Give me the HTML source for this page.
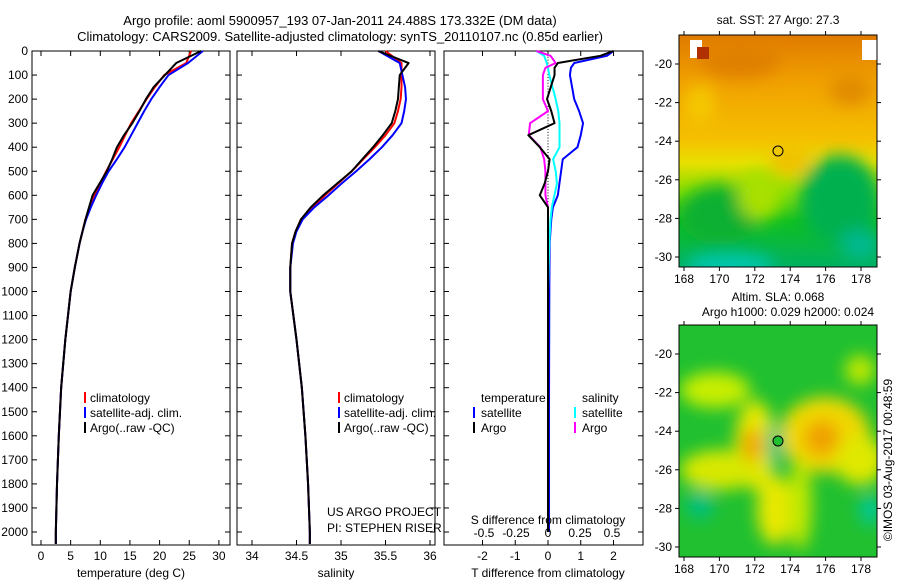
<!DOCTYPE html>
<html><head><meta charset="utf-8"><style>
html,body{margin:0;padding:0;background:#fff}
svg text{font-family:"Liberation Sans",sans-serif;font-size:12px;fill:#000}
svg text.big{font-size:13px}
</style></head><body>
<svg id="s" width="900" height="580" xmlns="http://www.w3.org/2000/svg">
<defs>
<filter id="blur1" x="-50%" y="-50%" width="200%" height="200%"><feGaussianBlur stdDeviation="8"/></filter>
<clipPath id="c1"><rect x="679" y="35" width="198" height="232"/></clipPath>
<clipPath id="c2"><rect x="679" y="325" width="198" height="232"/></clipPath>
<linearGradient id="sstg" x1="0" y1="0" x2="0" y2="1">
<stop offset="0" stop-color="#e07a00"/><stop offset="0.2" stop-color="#f0a000"/><stop offset="0.45" stop-color="#f5c000"/><stop offset="0.55" stop-color="#e8e000"/><stop offset="0.68" stop-color="#80dd00"/><stop offset="0.8" stop-color="#10c020"/><stop offset="1" stop-color="#00b060"/>
</linearGradient>
</defs>
<text class="big" x="340" y="25" text-anchor="middle">Argo profile: aoml 5900957_193 07-Jan-2011 24.488S 173.332E (DM data)</text>
<text class="big" x="340" y="41" text-anchor="middle">Climatology: CARS2009. Satellite-adjusted climatology: synTS_20110107.nc (0.85d earlier)</text>
<g id="plots"></g>
<g>
<text x="778" y="24" text-anchor="middle">sat. SST: 27 Argo: 27.3</text>
<g clip-path="url(#c1)">
<rect x="679" y="35" width="198" height="232" fill="url(#sstg)"/>
<g filter="url(#blur1)">
<ellipse cx="720" cy="215" rx="40" ry="30" fill="#10b030"/>
<ellipse cx="840" cy="200" rx="40" ry="45" fill="#00b050"/>
<ellipse cx="760" cy="195" rx="22" ry="25" fill="#a8e000"/>
<ellipse cx="730" cy="265" rx="45" ry="12" fill="#00c8b0"/>
<ellipse cx="860" cy="245" rx="20" ry="15" fill="#00b890"/>
<ellipse cx="790" cy="160" rx="20" ry="15" fill="#f0c000"/>
<ellipse cx="740" cy="60" rx="40" ry="18" fill="#e08000"/>
<ellipse cx="850" cy="90" rx="20" ry="15" fill="#e08a00"/>
<ellipse cx="700" cy="105" rx="15" ry="20" fill="#f5c800"/>
</g>
<rect x="690" y="40" width="12" height="18" fill="#fff"/>
<rect x="697" y="47" width="12" height="12" fill="#b03000"/>
<rect x="862" y="40" width="15" height="20" fill="#fff"/>
<circle cx="778" cy="151" r="5" fill="none" stroke="#000"/>
</g>
<rect x="679" y="35" width="198" height="232" fill="none" stroke="#000"/>
<g id="m1ticks"></g>
</g>
<g>
<text x="778" y="301" text-anchor="middle">Altim. SLA: 0.068</text>
<text x="788" y="316" text-anchor="middle">Argo h1000: 0.029 h2000: 0.024</text>
<g clip-path="url(#c2)">
<rect x="679" y="325" width="198" height="232" fill="#20c030"/>
<g filter="url(#blur1)">
<ellipse cx="715" cy="390" rx="35" ry="18" fill="#c8ee00"/>
<ellipse cx="755" cy="445" rx="20" ry="45" fill="#e8e800"/>
<ellipse cx="720" cy="470" rx="40" ry="20" fill="#d8e800"/>
<ellipse cx="752" cy="445" rx="10" ry="17" fill="#f0a000"/>
<ellipse cx="775" cy="510" rx="18" ry="35" fill="#e8e800"/>
<ellipse cx="825" cy="435" rx="45" ry="38" fill="#f0d800"/>
<ellipse cx="822" cy="438" rx="18" ry="18" fill="#f0a000"/>
<ellipse cx="800" cy="505" rx="12" ry="45" fill="#c0e800"/>
<ellipse cx="860" cy="460" rx="25" ry="25" fill="#e0e800"/>
<ellipse cx="860" cy="370" rx="15" ry="15" fill="#c0e800"/>
<ellipse cx="775" cy="445" rx="8" ry="22" fill="#00c080"/>
<ellipse cx="700" cy="505" rx="14" ry="14" fill="#00c080"/>
<ellipse cx="870" cy="510" rx="10" ry="15" fill="#00c8a0"/>
</g>
<circle cx="778" cy="441" r="5" fill="#20c030" stroke="#000"/>
</g>
<rect x="679" y="325" width="198" height="232" fill="none" stroke="#000"/>
<g id="m2ticks"></g>
</g>
<text transform="translate(892,460) rotate(-90)" text-anchor="middle">©IMOS 03-Aug-2017 00:48:59</text>
</svg>
<script>
const depths = [0,50,100,150,200,250,300,350,400,450,500,550,600,650,700,750,800,900,1000,1200,1400,1600,1800,2000,2050];
const tempClim = [25.3,24.5,20.8,19.2,17.8,16.5,15.2,14.2,13.2,12.1,11.0,10.0,9.0,8.2,7.5,7.0,6.5,5.7,5.0,4.1,3.4,3.0,2.7,2.5,2.5];
const tempSat  = [27.3,24.8,21.5,20.0,18.6,17.4,16.3,15.2,14.1,12.8,11.4,10.3,9.3,8.4,7.6,7.0,6.5,5.7,5.0,4.1,3.4,3.0,2.7,2.5,2.5];
const tempArgo = [27.0,22.8,20.9,19.0,17.7,16.6,15.4,14.0,12.8,12.0,11.1,9.9,8.7,8.1,7.5,7.0,6.5,5.7,5.0,4.1,3.4,3.0,2.7,2.5,2.5];
const salClim = [35.50,35.68,35.68,35.68,35.67,35.64,35.60,35.50,35.38,35.25,35.12,34.97,34.82,34.68,34.55,34.49,34.45,34.43,34.43,34.50,34.56,34.60,34.63,34.65,34.65];
const salSat  = [35.42,35.66,35.69,35.72,35.73,35.71,35.68,35.58,35.46,35.32,35.17,35.01,34.86,34.70,34.57,34.50,34.46,34.43,34.43,34.50,34.56,34.60,34.63,34.65,34.65];
const salArgo = [35.42,35.76,35.66,35.65,35.64,35.61,35.57,35.47,35.36,35.24,35.12,34.96,34.80,34.66,34.55,34.49,34.45,34.43,34.43,34.50,34.56,34.60,34.63,34.65,34.65];
const dDepths = [0,20,50,70,100,200,250,300,350,400,450,500,550,600,650,700,800,1000,1500,2000];
const tDiffSat  = [2.0,1.8,0.8,0.7,0.67,0.8,0.95,1.07,1.0,0.9,0.45,0.4,0.35,0.3,0.15,0.1,0.05,0.04,0.03,0.03];
const tDiffArgo = [2.0,1.6,0.3,0.2,0.2,-0.03,0.1,0.2,-0.6,-0.25,0.05,0.0,-0.1,-0.25,0.0,0.0,0.0,0.0,0.0,0.0];
const sDiffSat  = [-0.09,-0.03,-0.01,0.0,0.01,0.06,0.08,0.09,0.09,0.09,0.04,0.06,0.07,0.05,0.03,0.02,0.01,0.0,0.0,0.0];
const sDiffArgo = [-0.09,0.02,0.06,-0.02,-0.04,-0.04,0.0,-0.14,-0.15,-0.06,-0.03,-0.02,-0.02,-0.02,0.0,0.0,0.0,0.0,0.0,0.0];
const depthTicks = [0,100,200,300,400,500,600,700,800,900,1000,1100,1200,1300,1400,1500,1600,1700,1800,1900,2000];
const tTicks = [0,5,10,15,20,25,30];
const sTicks = [34,34.5,35,35.5,36];
const tdTicks = [-2,-1,0,1,2];
const sdTicks = [-0.5,-0.25,0,0.25,0.5];
const lonTicks = [168,170,172,174,176,178];
const latTicks = [-20,-22,-24,-26,-28,-30];

const NS='http://www.w3.org/2000/svg';
const G=document.getElementById('plots');
function mk(tag,at,parent){const e=document.createElementNS(NS,tag);for(const k in at)e.setAttribute(k,at[k]);(parent||G).appendChild(e);return e;}
const yD = d => 51 + d*0.2405;
const pTop=51, pBot=545;
const xT = v => 41 + v*5.93;
const xS = v => 252 + (v-34)*89;
const xTD = v => 548 + v*32.75;
const xSD = v => 548 + v*128;

function frame(x0,x1,name){
  const r=mk('rect',{x:x0,y:pTop,width:x1-x0,height:pBot-pTop,fill:'none',stroke:'#000'});
  
  
  depthTicks.forEach(d=>{
    mk('line',{x1:x0,x2:x0+5,y1:yD(d),y2:yD(d),stroke:'#000'});
    mk('line',{x1:x1,x2:x1-5,y1:yD(d),y2:yD(d),stroke:'#000'});
  });
}
function xticks(ticks,fx,y,labels){
  ticks.forEach(v=>{
    mk('line',{x1:fx(v),x2:fx(v),y1:pTop,y2:pTop+5,stroke:'#000'});
    mk('line',{x1:fx(v),x2:fx(v),y1:pBot,y2:pBot-5,stroke:'#000'});
    if(labels){const t=mk('text',{x:fx(v),y:y,'text-anchor':'middle'});t.textContent=String(v);
      
      }
  });
}
function line(xs,ds,fx,col,name){
  const p=mk('polyline',{points:xs.map((v,i)=>fx(v)+','+yD(ds[i])).join(' '),fill:'none',stroke:col,'stroke-width':2,'stroke-linejoin':'round'});
  
  
}
function txt(x,y,s,name,anchor){const t=mk('text',{x:x,y:y,'text-anchor':anchor||'start'});t.textContent=s;
  
  return t;}
function legBar(x,y,col){mk('rect',{x:x,y:y-10,width:2,height:11,fill:col});}

frame(32,230,'temperature-panel');
depthTicks.forEach(d=>{txt(28,yD(d)+4,String(d),'depth-tick-label','end');});
xticks(tTicks,xT,560,true);
line(tempClim,depths,xT,'#f00','temp-climatology-line');
line(tempSat,depths,xT,'#00f','temp-satellite-line');
line(tempArgo,depths,xT,'#000','temp-argo-line');
txt(131,577,'temperature (deg C)','x-axis-title-temperature','middle');
legBar(84,402,'#f00');txt(90,402,'climatology','legend-climatology');
legBar(84,417,'#00f');txt(90,417,'satellite-adj. clim.','legend-satellite');
legBar(84,432,'#000');txt(90,432,'Argo(..raw -QC)','legend-argo');

frame(237,435,'salinity-panel');
xticks(sTicks,xS,560,true);
line(salClim,depths,xS,'#f00','sal-climatology-line');
line(salSat,depths,xS,'#00f','sal-satellite-line');
line(salArgo,depths,xS,'#000','sal-argo-line');
txt(336,577,'salinity','x-axis-title-salinity','middle');
legBar(338,402,'#f00');txt(344,402,'climatology','legend-climatology-2');
legBar(338,417,'#00f');txt(344,417,'satellite-adj. clim.','legend-satellite-2');
legBar(338,432,'#000');txt(344,432,'Argo(..raw -QC)','legend-argo-2');
txt(327,516,'US ARGO PROJECT','project-label');
txt(327,532,'PI: STEPHEN RISER','pi-label');

frame(444,643,'difference-panel');
xticks(tdTicks,xTD,560,true);
for(let d=0;d<=700;d+=12){mk('rect',{x:547.5,y:yD(d),width:1,height:1,fill:'#000'});}
line(tDiffSat,dDepths,xTD,'#00f','tdiff-satellite-line');
line(sDiffSat,dDepths,xSD,'#0ff','sdiff-satellite-line');
line(sDiffArgo,dDepths,xSD,'#f0f','sdiff-argo-line');
line(tDiffArgo,dDepths,xTD,'#000','tdiff-argo-line');
sdTicks.forEach(v=>{txt(xSD(v),537,String(v),'s-diff-tick-label','middle');});
txt(548,524,'S difference from climatology','s-diff-axis-title','middle');
txt(548,577,'T difference from climatology','t-diff-axis-title','middle');
txt(481,402,'temperature','legend-temperature-header');
txt(582,402,'salinity','legend-salinity-header');
legBar(473,417,'#00f');txt(481,417,'satellite','legend-t-satellite');
legBar(473,432,'#000');txt(481,432,'Argo','legend-t-argo');
legBar(574,417,'#0ff');txt(582,417,'satellite','legend-s-satellite');
legBar(574,432,'#f0f');txt(582,432,'Argo','legend-s-argo');

const xL = v => 684 + (v-168)*17.7;
function mapTicks(gid,y0,y1,latY){
  const g=document.getElementById(gid);
  lonTicks.forEach(v=>{
    mk('line',{x1:xL(v),x2:xL(v),y1:y0,y2:y0-4,stroke:'#000'},g);
    mk('line',{x1:xL(v),x2:xL(v),y1:y1,y2:y1+4,stroke:'#000'},g);
    const t=mk('text',{x:xL(v),y:y1+16,'text-anchor':'middle'},g);t.textContent=String(v);
    
    
  });
  latTicks.forEach(v=>{
    const y=latY(v);
    mk('line',{x1:679,x2:675,y1:y,y2:y,stroke:'#000'},g);
    mk('line',{x1:877,x2:881,y1:y,y2:y,stroke:'#000'},g);
    const t=mk('text',{x:672,y:y+4,'text-anchor':'end'},g);t.textContent=String(v);
    
    
  });
}
mapTicks('m1ticks',35,267,v=>64+(-20-v)*19.3);
mapTicks('m2ticks',325,557,v=>354+(-20-v)*19.3);
</script>
</body></html>
